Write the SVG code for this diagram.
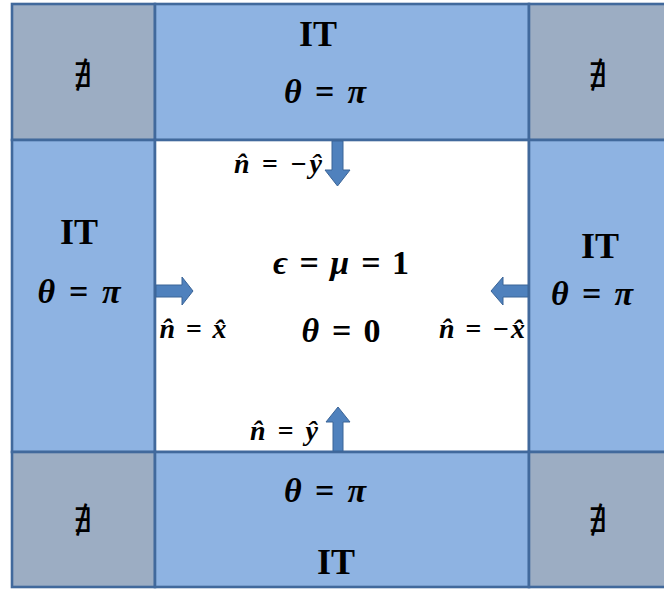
<svg xmlns="http://www.w3.org/2000/svg" width="664" height="590" viewBox="0 0 664 590">
<defs>
<style>
.cell{stroke:#41699C;stroke-width:2.6}
.blue{fill:#8EB3E2}
.gray{fill:#9CADC3}
.white{fill:#FFFFFF}
.it{font-family:"Liberation Serif",serif;font-weight:bold;font-size:36px;fill:#000;text-anchor:middle}
.m{font-family:"Liberation Serif",serif;font-weight:bold;font-style:italic;font-size:34px;fill:#000;text-anchor:middle}
.up{font-style:normal}
.n{font-family:"Liberation Serif","DejaVu Serif",serif;font-weight:bold;font-style:italic;font-size:28px;fill:#000;text-anchor:middle}
.ne{font-family:"DejaVu Serif",serif;font-size:34px;fill:#000;text-anchor:middle}
.arr{fill:#4F81BD;stroke:#3A6497;stroke-width:1}
</style>
</defs>
<rect x="0" y="0" width="664" height="590" fill="#FFFFFF"/>
<g id="corner-tl"><rect class="cell gray" x="12" y="4" width="143" height="136"/><text class="ne" x="83" y="87">∄</text></g>
<g id="top"><rect class="cell blue" x="155" y="4" width="374" height="136"/><text class="it" x="318" y="46">IT</text><text class="m" x="325" y="103" textLength="82" lengthAdjust="spacing">θ = π</text></g>
<g id="corner-tr"><rect class="cell gray" x="529" y="4" width="140" height="136"/><text class="ne" x="598" y="87">∄</text></g>
<g id="left"><rect class="cell blue" x="12" y="140" width="143" height="312"/><text class="it" x="79" y="244">IT</text><text class="m" x="79" y="303" textLength="83" lengthAdjust="spacing">θ = π</text></g>
<g id="center"><rect class="cell white" x="155" y="140" width="374" height="312"/><text class="m" x="341" y="274" textLength="136" lengthAdjust="spacing">ϵ = μ = <tspan class="up">1</tspan></text><text class="m" x="341" y="342" textLength="79" lengthAdjust="spacing">θ = <tspan class="up">0</tspan></text></g>
<g id="right"><rect class="cell blue" x="529" y="140" width="140" height="312"/><text class="it" x="600" y="258">IT</text><text class="m" x="592" y="305" textLength="82" lengthAdjust="spacing">θ = π</text></g>
<g id="corner-bl"><rect class="cell gray" x="12" y="452" width="143" height="135"/><text class="ne" x="83" y="532">∄</text></g>
<g id="bottom"><rect class="cell blue" x="155" y="452" width="374" height="135"/><text class="m" x="325" y="502" textLength="82" lengthAdjust="spacing">θ = π</text><text class="it" x="336" y="574">IT</text></g>
<g id="corner-br"><rect class="cell gray" x="529" y="452" width="140" height="135"/><text class="ne" x="598" y="532">∄</text></g>
<g id="connectors">
<path class="arr" d="M332,141 L343,141 L343,170 L350,170 L337.5,186 L325,170 L332,170 Z"/>
<path class="arr" d="M156,285 L182,285 L182,277 L193,291 L182,305 L182,297 L156,297 Z"/>
<path class="arr" d="M528,285 L503,285 L503,277 L491,291 L503,305 L503,297 L528,297 Z"/>
<path class="arr" d="M333,451 L343,451 L343,422 L350,422 L338,407 L326,422 L333,422 Z"/>
</g>
<g id="labels">
<text class="n" x="278" y="173" textLength="88" lengthAdjust="spacing">n̂ = −ŷ</text>
<text class="n" x="193" y="338" textLength="67" lengthAdjust="spacing">n̂ = x̂</text>
<text class="n" x="482" y="338" textLength="86" lengthAdjust="spacing">n̂ = −x̂</text>
<text class="n" x="284" y="440" textLength="68" lengthAdjust="spacing">n̂ = ŷ</text>
</g>
</svg>
